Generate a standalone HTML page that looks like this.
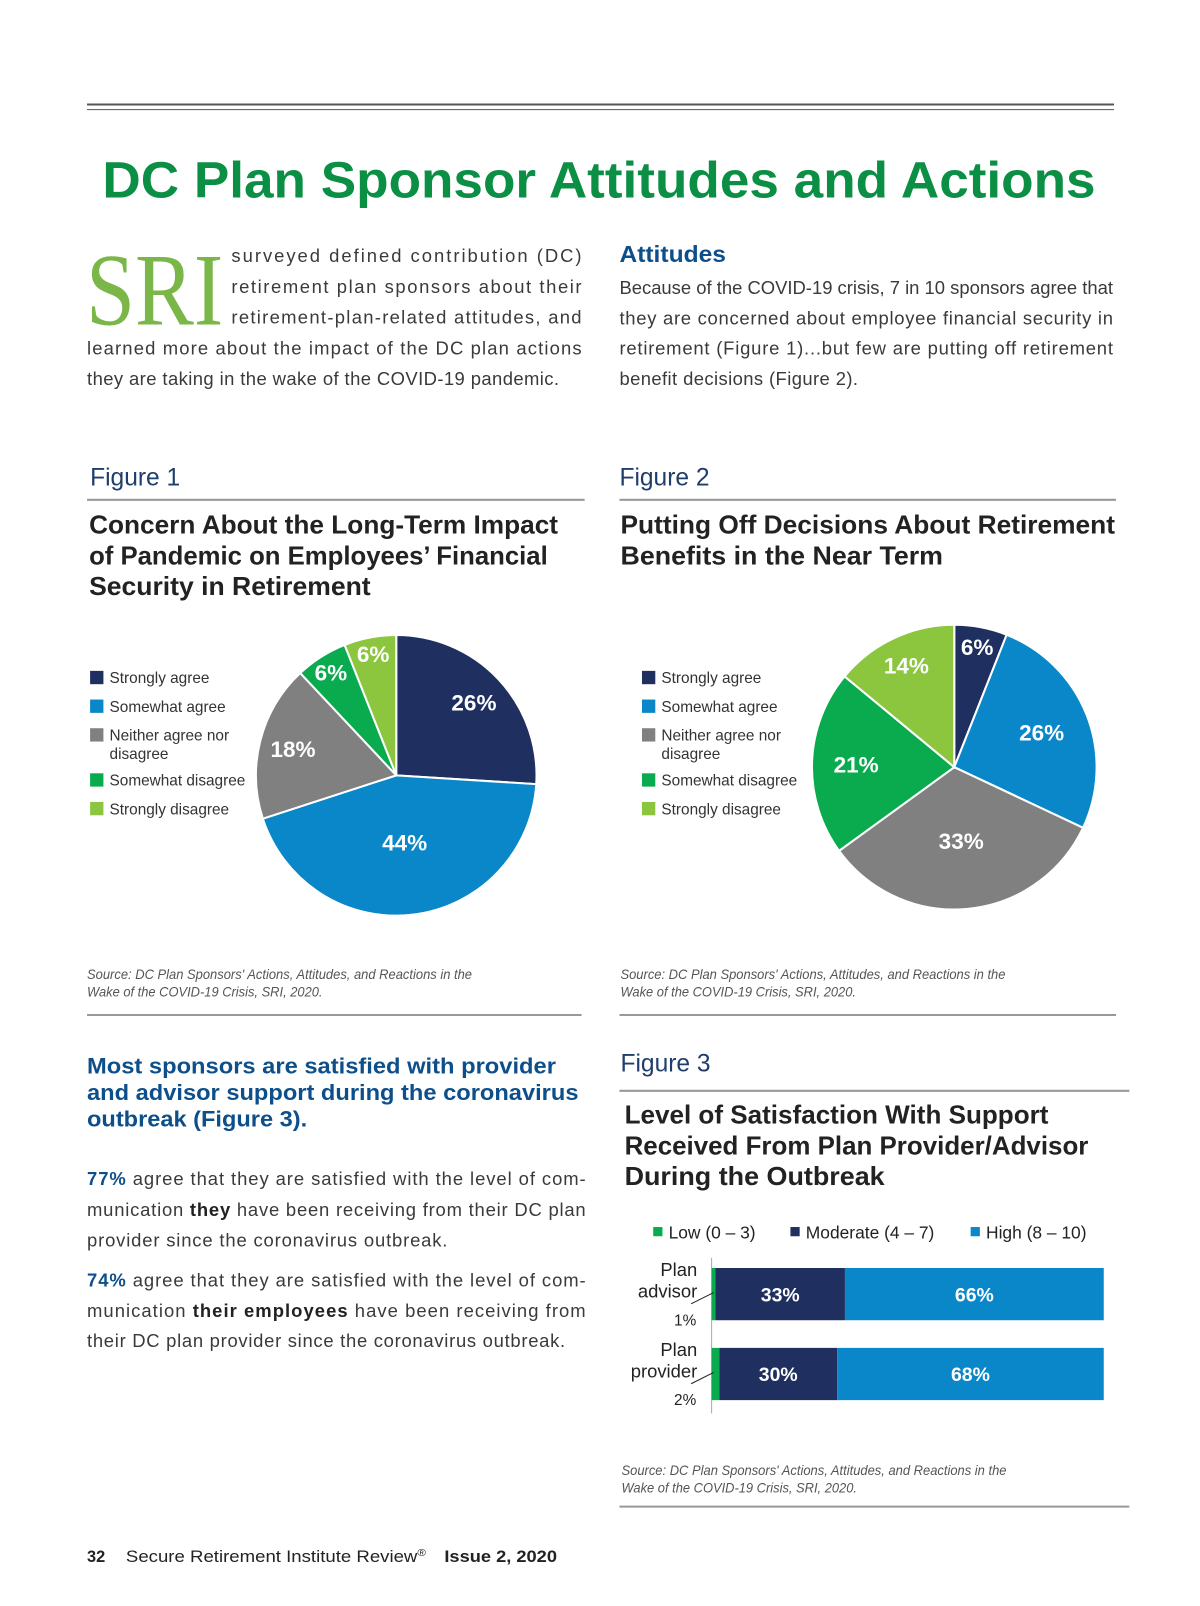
<!DOCTYPE html>
<html><head><meta charset="utf-8"><style>
html,body{margin:0;padding:0;background:#fff}
svg{display:block}
text{font-family:"Liberation Sans",sans-serif}
.body{font-size:18px;fill:#3a3a3a}
.fig{font-size:24px;fill:#1f3e6b}
.ftitle{font-size:25px;font-weight:bold;fill:#222}
.leg{font-size:15px;fill:#333}
.src{font-size:13.5px;font-style:italic;fill:#555}
.blue{fill:#0d4f8b;font-weight:bold}
</style></head><body>
<svg id="page" width="1200" height="1606" viewBox="0 0 1172 1568" preserveAspectRatio="none" xmlns="http://www.w3.org/2000/svg">
<line x1="85" y1="102" x2="1088" y2="102" stroke="#555" stroke-width="2"/>
<line x1="85" y1="107" x2="1088" y2="107" stroke="#555" stroke-width="1"/>
<text x="100" y="193" font-size="50" font-weight="bold" fill="#0a8f45" textLength="970" lengthAdjust="spacingAndGlyphs">DC Plan Sponsor Attitudes and Actions</text>

<text x="84" y="317" font-size="100" fill="#7ab648" textLength="134" lengthAdjust="spacingAndGlyphs" style="font-family:'Liberation Serif',serif">SRI</text>
<g class="body">
<text x="226" y="256" textLength="342" lengthAdjust="spacing">surveyed defined contribution (DC)</text>
<text x="226" y="286" textLength="342" lengthAdjust="spacing">retirement plan sponsors about their</text>
<text x="226" y="316" textLength="342" lengthAdjust="spacing">retirement-plan-related attitudes, and</text>
<text x="85" y="346" textLength="483" lengthAdjust="spacing">learned more about the impact of the DC plan actions</text>
<text x="85" y="376" textLength="461" lengthAdjust="spacing">they are taking in the wake of the COVID-19 pandemic.</text>
</g>
<text x="605" y="256" font-size="23" class="blue" textLength="104" lengthAdjust="spacingAndGlyphs">Attitudes</text>
<g class="body">
<text x="605" y="287" textLength="482" lengthAdjust="spacing">Because of the COVID-19 crisis, 7 in 10 sponsors agree that</text>
<text x="605" y="317" textLength="482" lengthAdjust="spacing">they are concerned about employee financial security in</text>
<text x="605" y="346" textLength="482" lengthAdjust="spacing">retirement (Figure 1)...but few are putting off retirement</text>
<text x="605" y="376" textLength="233" lengthAdjust="spacing">benefit decisions (Figure 2).</text>
</g>

<text x="88" y="474" class="fig">Figure 1</text>
<line x1="85" y1="488" x2="571" y2="488" stroke="#999" stroke-width="2"/>
<g class="ftitle">
<text x="87" y="521" textLength="458" lengthAdjust="spacingAndGlyphs">Concern About the Long-Term Impact</text>
<text x="87" y="551" textLength="448" lengthAdjust="spacingAndGlyphs">of Pandemic on Employees’ Financial</text>
<text x="87" y="581" textLength="275" lengthAdjust="spacingAndGlyphs">Security in Retirement</text>
</g>
<text x="605" y="474" class="fig">Figure 2</text>
<line x1="605" y1="488" x2="1090" y2="488" stroke="#999" stroke-width="2"/>
<g class="ftitle">
<text x="606" y="521" textLength="483" lengthAdjust="spacingAndGlyphs">Putting Off Decisions About Retirement</text>
<text x="606" y="551" textLength="315" lengthAdjust="spacingAndGlyphs">Benefits in the Near Term</text>
</g>

<g id="leg1"></g>
<g id="leg2"></g>
<g id="pie1"></g>
<g id="pie2"></g>

<g class="src">
<text x="85" y="956" textLength="376" lengthAdjust="spacingAndGlyphs">Source: DC Plan Sponsors' Actions, Attitudes, and Reactions in the</text>
<text x="85" y="973" textLength="230" lengthAdjust="spacingAndGlyphs">Wake of the COVID-19 Crisis, SRI, 2020.</text>
</g>
<line x1="85" y1="991" x2="568" y2="991" stroke="#999" stroke-width="2"/>
<g class="src">
<text x="606" y="956" textLength="376" lengthAdjust="spacingAndGlyphs">Source: DC Plan Sponsors' Actions, Attitudes, and Reactions in the</text>
<text x="606" y="973" textLength="230" lengthAdjust="spacingAndGlyphs">Wake of the COVID-19 Crisis, SRI, 2020.</text>
</g>
<line x1="605" y1="991" x2="1090" y2="991" stroke="#999" stroke-width="2"/>

<g font-size="22" class="blue">
<text x="85" y="1048" class="blue" textLength="458" lengthAdjust="spacingAndGlyphs">Most sponsors are satisfied with provider</text>
<text x="85" y="1074" class="blue" textLength="480" lengthAdjust="spacingAndGlyphs">and advisor support during the coronavirus</text>
<text x="85" y="1100" class="blue" textLength="215" lengthAdjust="spacingAndGlyphs">outbreak (Figure 3).</text>
</g>
<g class="body">
<text x="85" y="1157" textLength="487" lengthAdjust="spacing"><tspan class="blue">77%</tspan> agree that they are satisfied with the level of com-</text>
<text x="85" y="1187" textLength="487" lengthAdjust="spacing">munication <tspan font-weight="bold" fill="#222">they</tspan> have been receiving from their DC plan</text>
<text x="85" y="1217" textLength="352" lengthAdjust="spacing">provider since the coronavirus outbreak.</text>
<text x="85" y="1256" textLength="487" lengthAdjust="spacing"><tspan class="blue">74%</tspan> agree that they are satisfied with the level of com-</text>
<text x="85" y="1286" textLength="487" lengthAdjust="spacing">munication <tspan font-weight="bold" fill="#222">their employees</tspan> have been receiving from</text>
<text x="85" y="1315" textLength="467" lengthAdjust="spacing">their DC plan provider since the coronavirus outbreak.</text>
</g>

<text x="606" y="1046" class="fig">Figure 3</text>
<line x1="605" y1="1065" x2="1103" y2="1065" stroke="#999" stroke-width="2"/>
<g class="ftitle">
<text x="610" y="1097" textLength="414" lengthAdjust="spacingAndGlyphs">Level of Satisfaction With Support</text>
<text x="610" y="1127" textLength="453" lengthAdjust="spacingAndGlyphs">Received From Plan Provider/Advisor</text>
<text x="610" y="1157" textLength="254" lengthAdjust="spacingAndGlyphs">During the Outbreak</text>
</g>
<g id="bars"></g>
<g class="src">
<text x="607" y="1440" textLength="376" lengthAdjust="spacingAndGlyphs">Source: DC Plan Sponsors' Actions, Attitudes, and Reactions in the</text>
<text x="607" y="1457" textLength="230" lengthAdjust="spacingAndGlyphs">Wake of the COVID-19 Crisis, SRI, 2020.</text>
</g>
<line x1="605" y1="1471" x2="1103" y2="1471" stroke="#999" stroke-width="2"/>

<g font-size="16" fill="#222">
<text x="85" y="1525" font-weight="bold">32</text>
<text x="123" y="1525" textLength="293" lengthAdjust="spacingAndGlyphs">Secure Retirement Institute Review<tspan font-size="10" dy="-6">®</tspan></text>
<text x="434" y="1525" font-weight="bold" textLength="110" lengthAdjust="spacingAndGlyphs">Issue 2, 2020</text>
</g>
</svg>
<script>
const legendLabels = ["Strongly agree","Somewhat agree","Neither agree nor|disagree","Somewhat disagree","Strongly disagree"];
const pieColors = ["#1f2f5f","#0a87c9","#808080","#0aab4e","#8cc63f"];
const fig1Values = [26,44,18,6,6];
const fig2Values = [6,26,33,21,14];
const barCategories = [["Plan","advisor"],["Plan","provider"]];
const barLow = [1,2];
const barModerate = [33,30];
const barHigh = [66,68];
const barLegend = ["Low (0 – 3)","Moderate (4 – 7)","High (8 – 10)"];
const barColors = ["#0aab4e","#1f2f5f","#0a87c9"];

const NS="http://www.w3.org/2000/svg";
function mk(tag,attrs,parent){const e=document.createElementNS(NS,tag);for(const k in attrs)e.setAttribute(k,attrs[k]);parent.appendChild(e);return e;}

function legend(g,x){
  const rows=[667,695,723,767,795];
  legendLabels.forEach((l,i)=>{
    const r=mk('rect',{x:x,y:rows[i]-12,width:13,height:13,fill:pieColors[i]},g);
    
    
    l.split('|').forEach((p,j)=>{
      const t=mk('text',{x:x+19,y:rows[i]+j*18,class:'leg'},g);
      t.textContent=p;
      
      
    });
  });
}
legend(document.getElementById('leg1'),88);
legend(document.getElementById('leg2'),627);

function pie(g,vals,cx,cy,r,labelPos){
  const tot=vals.reduce((a,b)=>a+b,0);let a0=0;
  vals.forEach((v,i)=>{
    const a1=a0+v/tot*2*Math.PI;
    const x0=cx+r*Math.sin(a0),y0=cy-r*Math.cos(a0),x1=cx+r*Math.sin(a1),y1=cy-r*Math.cos(a1);
    const p=mk('path',{d:`M${cx},${cy}L${x0},${y0}A${r},${r} 0 ${a1-a0>Math.PI?1:0} 1 ${x1},${y1}Z`,fill:pieColors[i],stroke:'#fff','stroke-width':2},g);
    
    
    const am=(a0+a1)/2, f=labelPos[i];
    const t=mk('text',{x:cx+r*f*Math.sin(am),y:cy-r*f*Math.cos(am)+8,'text-anchor':'middle','font-size':22,'font-weight':'bold',fill:'#fff'},g);
    t.textContent=v+'%';
    
    
    a0=a1;
  });
}
pie(document.getElementById('pie1'),fig1Values,387,757,137,[0.76,0.48,0.76,0.87,0.88]);
pie(document.getElementById('pie2'),fig2Values,932,749,139,[0.86,0.66,0.52,0.69,0.79]);

(function(){
  const g=document.getElementById('bars');
  const x0=695,w=383,ys=[1238,1316],h=51;
  const sx=v=>v/100*w;
  const lx=[638,772,948];
  barLegend.forEach((l,i)=>{
    const r=mk('rect',{x:lx[i],y:1198,width:9,height:9,fill:barColors[i]},g);
    
    
    const t=mk('text',{x:lx[i]+15,y:1209,'font-size':17,fill:'#222'},g);
    t.textContent=l;
    
    
  });
  mk('line',{x1:x0,y1:1228,x2:x0,y2:1380,stroke:'#aaa','stroke-width':1},g);
  barCategories.forEach((c,i)=>{
    const y=ys[i];let x=x0;
    [barLow[i],barModerate[i],barHigh[i]].forEach((v,k)=>{
      const r=mk('rect',{x:x,y:y,width:sx(v),height:h,fill:barColors[k]},g);
      
      
      if(k>0){
        const t=mk('text',{x:x+sx(v)/2,y:y+h/2+7,'text-anchor':'middle','font-size':19,'font-weight':'bold',fill:'#fff'},g);
        t.textContent=v+'%';
        
        
      }
      x+=sx(v);
    });
    c.forEach((p,j)=>{
      const t=mk('text',{x:681,y:y+8+j*21,'text-anchor':'end','font-size':18,fill:'#222'},g);
      t.textContent=p;
      
      
    });
    const t=mk('text',{x:680,y:y+56,'text-anchor':'end','font-size':15,fill:'#222'},g);
    t.textContent=barLow[i]+'%';
    
    
    mk('line',{x1:675,y1:y+35,x2:x0+2,y2:y+24,stroke:'#222','stroke-width':1},g);
  });
})();
</script>
</body></html>
